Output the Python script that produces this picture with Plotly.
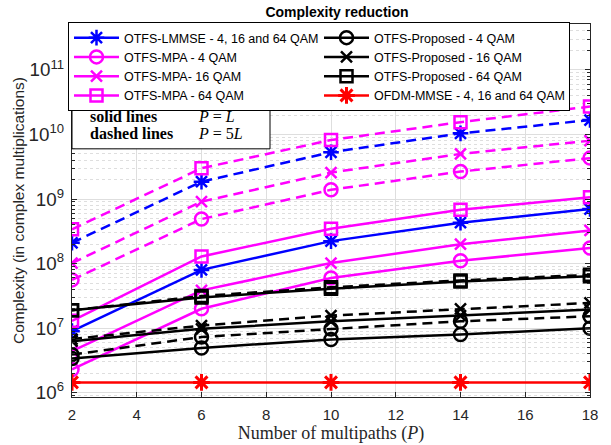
import plotly.graph_objects as go

P = [2, 6, 10, 14, 18]

lmmse_L = [9.0e6, 8.0e7, 2.23e8, 4.3e8, 7.0e8]
lmmse_5L = [2.1e8, 1.86e9, 5.3e9, 1.04e10, 1.67e10]
mpa4_L = [2.3e6, 2.0e7, 6.0e7, 1.11e8, 1.74e8]
mpa4_5L = [5.6e7, 4.9e8, 1.39e9, 2.66e9, 4.3e9]
mpa16_L = [4.4e6, 3.85e7, 1.02e8, 2.0e8, 3.26e8]
mpa16_5L = [1.02e8, 9.1e8, 2.57e9, 5.0e9, 8.0e9]
mpa64_L = [1.3e7, 1.29e8, 3.46e8, 6.8e8, 1.07e9]
mpa64_5L = [3.4e8, 3.0e9, 8.2e9, 1.55e10, 2.7e10]
prop4_L = [3.4e6, 4.95e6, 6.7e6, 8.0e6, 1.0e7]
prop4_5L = [3.9e6, 7.3e6, 9.7e6, 1.28e7, 1.53e7]
prop16_L = [6.3e6, 9.8e6, 1.28e7, 1.57e7, 1.94e7]
prop16_5L = [6.8e6, 1.1e7, 1.57e7, 1.99e7, 2.46e7]
prop64_L = [1.9e7, 3.0e7, 4.1e7, 5.3e7, 6.4e7]
prop64_5L = [1.9e7, 3.15e7, 4.3e7, 5.5e7, 6.7e7]
ofdm = [1.45e6, 1.45e6, 1.45e6, 1.45e6, 1.45e6]

BLUE = "rgb(0,0,255)"
MAG = "rgb(255,0,255)"
BLK = "rgb(0,0,0)"
RED = "rgb(255,0,0)"

COL1_W, COL2_W = 178, 190

series = [
    # name, solid, dashed, color, symbol, size, rank, legend entry width
    ("OTFS-LMMSE - 4, 16 and 64 QAM", lmmse_L, lmmse_5L, BLUE, "asterisk-open", 13, 1, COL1_W),
    ("OTFS-MPA - 4 QAM", mpa4_L, mpa4_5L, MAG, "circle-open", 13, 3, COL1_W),
    ("OTFS-MPA- 16 QAM", mpa16_L, mpa16_5L, MAG, "x-thin-open", 11, 5, COL1_W),
    ("OTFS-MPA - 64 QAM", mpa64_L, mpa64_5L, MAG, "square-open", 12, 7, COL1_W),
    ("OTFS-Proposed - 4 QAM", prop4_L, prop4_5L, BLK, "circle-open", 13, 2, COL2_W),
    ("OTFS-Proposed - 16 QAM", prop16_L, prop16_5L, BLK, "x-thin-open", 11, 4, COL2_W),
    ("OTFS-Proposed - 64 QAM", prop64_L, prop64_5L, BLK, "square-open", 12, 6, COL2_W),
]

fig = go.Figure()
for name, ys, yd, col, sym, sz, rank, lw in series:
    fig.add_trace(go.Scatter(
        x=P, y=ys, mode="lines+markers", name=name, legendrank=rank, legendwidth=lw,
        line=dict(color=col, width=2.5),
        marker=dict(symbol=sym, size=sz, color=col, line=dict(color=col, width=2.5)),
    ))
    fig.add_trace(go.Scatter(
        x=P, y=yd, mode="lines+markers", name=name, showlegend=False,
        line=dict(color=col, width=2.5, dash="10px,6px"),
        marker=dict(symbol=sym, size=sz, color=col, line=dict(color=col, width=2.5)),
    ))
fig.add_trace(go.Scatter(
    x=P, y=ofdm, mode="lines+markers", name="OFDM-MMSE - 4, 16 and 64 QAM",
    legendrank=8, legendwidth=COL2_W,
    line=dict(color=RED, width=2.5),
    marker=dict(symbol="asterisk-open", size=14, color=RED, line=dict(color=RED, width=3)),
))

W, H = 611, 445
L, T, R, B = 72, 24, 21, 47.5
pw, ph = W - L - R, H - T - B

def px_x(px):
    return (px - L) / pw

def px_y(py):
    return (H - B - py) / ph

fig.add_shape(type="rect", xref="paper", yref="paper",
              x0=0, x1=px_x(270), y0=px_y(149), y1=px_y(103),
              fillcolor="white", line=dict(color="black", width=1), layer="above")
serif = "Liberation Serif"
for txt, xx, yy in [("<b>solid lines</b>", 88, 117), ("<b>dashed lines</b>", 88, 134),
                    ("<i>P</i> = <i>L</i>", 196, 117), ("<i>P</i> = 5<i>L</i>", 196, 134)]:
    fig.add_annotation(xref="paper", yref="paper", x=px_x(xx), y=px_y(yy),
                       text=txt, showarrow=False, xanchor="left", yanchor="middle",
                       font=dict(family=serif, size=16, color="black"))

grid = "rgb(222,222,222)"
fig.update_layout(
    width=W, height=H,
    margin=dict(l=L, r=R, t=T, b=B),
    plot_bgcolor="white", paper_bgcolor="white",
    font=dict(family="Liberation Sans, Arial", size=14, color="rgb(38,38,38)"),
    title=dict(text="<b>Complexity reduction</b>", x=px_x(337), xref="paper", xanchor="center",
               y=1 - 12 / H, yanchor="middle", font=dict(size=14, color="black")),
    showlegend=True,
    legend=dict(orientation="h", x=px_x(68), y=px_y(22), xanchor="left", yanchor="top",
                bgcolor="white", bordercolor="black", borderwidth=1,
                entrywidth=COL1_W, entrywidthmode="pixels", itemwidth=45,
                font=dict(size=12.5, color="black"), tracegroupgap=0),
    xaxis=dict(range=[2, 18], tickvals=[2, 4, 6, 8, 10, 12, 14, 16, 18],
               showgrid=True, gridcolor=grid, gridwidth=1, automargin=False,
               ticks="inside", ticklen=5, tickcolor="rgb(38,38,38)",
               showline=True, linecolor="rgb(38,38,38)", linewidth=1, mirror="ticks",
               zeroline=False, ticklabelstandoff=4,
               title=dict(text="Number of multipaths (<i>P</i>)", standoff=4,
                          font=dict(family=serif, size=18, color="rgb(38,38,38)")),
               tickfont=dict(size=15)),
    yaxis=dict(type="log", range=[5.935, 11.71], dtick=1, exponentformat="power",
               showgrid=True, gridcolor=grid, gridwidth=1, automargin=False,
               ticks="inside", ticklen=5, tickcolor="rgb(38,38,38)",
               showline=True, linecolor="rgb(38,38,38)", linewidth=1, mirror="ticks",
               zeroline=False, ticklabelstandoff=4,
               minor=dict(dtick="D1", showgrid=True, gridcolor="rgb(222,222,222)",
                          griddash="dot", gridwidth=1, ticks="inside", ticklen=3,
                          tickcolor="rgb(38,38,38)"),
               title=dict(text="Complexity (in complex multiplications)", standoff=0,
                          font=dict(size=15.5, color="rgb(38,38,38)")),
               tickfont=dict(size=15)),
)

fig.write_html("out.html", config={"displayModeBar": False},
               post_script="document.body.style.margin='0';")
